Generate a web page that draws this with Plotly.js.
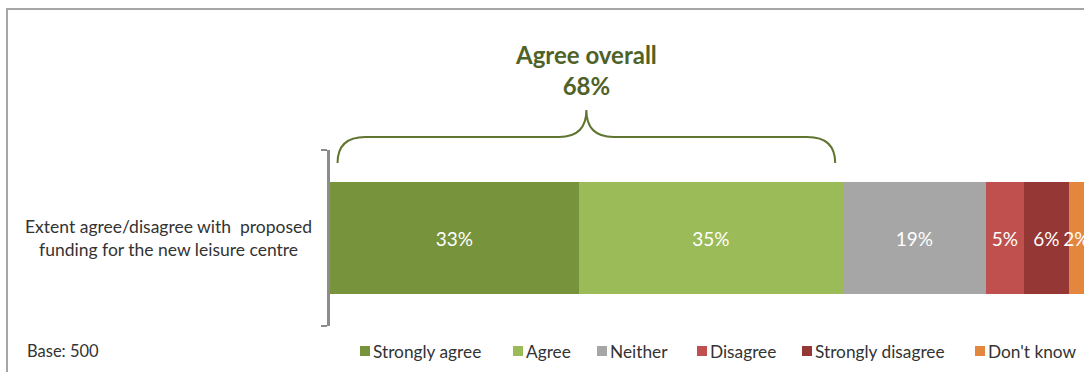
<!DOCTYPE html>
<html>
<head>
<meta charset="utf-8">
<script src="https://cdn.plot.ly/plotly-3.0.1.min.js"></script>
<style>html,body{margin:0;padding:0;background:#fff;}#chart{width:1084px;height:372px;}</style>
</head>
<body>
<div id="chart"></div>
<script>
const category = 'Extent agree/disagree with  proposed<br>funding for the new leisure centre';
const seriesNames = ['Strongly agree', 'Agree', 'Neither', 'Disagree', 'Strongly disagree', "Don't know"];
const seriesValues = [33, 35, 19, 5, 6, 2];
const seriesColors = ['#77933C', '#9BBB59', '#A6A6A6', '#C0504D', '#953735', '#E3873F'];
const baseText = 'Base: 500';
const overallLabel = 'Agree overall';
const agreeOverall = seriesValues[0] + seriesValues[1];

// layout: left edge (px) of each legend swatch
const legendSwatchPx = [360, 513, 597, 697, 802, 975];

const FONT = 'Lato, "Open Sans", sans-serif';
const PLOT_L = 330, PLOT_W = 754, PLOT_B = 326, PLOT_H = 176;
const px2x = p => (p - PLOT_L) / PLOT_W;
const py2y = p => (PLOT_B - p) / PLOT_H;

const traces = seriesNames.map((name, i) => ({
  type: 'bar',
  orientation: 'h',
  name: name,
  y: [category],
  x: [seriesValues[i]],
  width: 0.636,
  marker: {color: seriesColors[i], line: {width: 0}},
  text: [seriesValues[i] + '%'],
  texttemplate: '%{text}',
  textposition: 'inside',
  insidetextanchor: 'middle',
  textangle: 0,
  constraintext: 'none',
  textfont: {color: '#ffffff', size: 19, family: FONT},
  showlegend: false,
  hoverinfo: 'skip'
}));

// brace over the "agree" segments
const b0 = 1, b1 = agreeOverall - 1, mid = agreeOverall / 2;
const yEnd = 0.926, yLine = 1.074, yTip = 1.227;
const bracePath = `M ${b0},${yEnd} Q ${b0},${yLine} ${b0 + 3.7},${yLine} L ${mid - 3.6},${yLine} Q ${mid},${yLine} ${mid},${yTip} Q ${mid},${yLine} ${mid + 3.6},${yLine} L ${b1 - 3.7},${yLine} Q ${b1},${yLine} ${b1},${yEnd}`;

const shapes = [
  {type: 'rect', xref: 'paper', yref: 'paper', x0: px2x(7), x1: 1.2, y0: -0.6, y1: py2y(9),
   line: {color: '#A6A6A6', width: 2}, fillcolor: 'rgba(0,0,0,0)'},
  {type: 'path', xref: 'x', yref: 'paper', path: bracePath,
   line: {color: '#5F7530', width: 2}}
];
const annotations = [
  {xref: 'paper', yref: 'y', x: px2x(168), y: category, xanchor: 'center', yanchor: 'middle',
   text: category, showarrow: false, align: 'center',
   font: {size: 17.5, family: FONT, color: '#333333'}},
  {xref: 'paper', yref: 'paper', x: px2x(25), y: py2y(351), xanchor: 'left', yanchor: 'middle',
   text: baseText, showarrow: false, font: {size: 16.5, family: FONT, color: '#333333'}},
  {xref: 'x', yref: 'paper', x: mid, y: py2y(70), xanchor: 'center', yanchor: 'middle',
   text: '<b>' + overallLabel + '</b><br><b>' + agreeOverall + '%</b>', showarrow: false, align: 'center',
   font: {size: 24, family: FONT, color: '#4F6228'}}
];

seriesNames.forEach((name, i) => {
  const sx = legendSwatchPx[i];
  shapes.push({type: 'rect', xref: 'paper', yref: 'paper',
    x0: px2x(sx), x1: px2x(sx + 10), y0: py2y(356), y1: py2y(346),
    fillcolor: seriesColors[i], line: {width: 0}});
  annotations.push({xref: 'paper', yref: 'paper', x: px2x(sx + 11), y: py2y(351),
    xanchor: 'left', yanchor: 'middle', text: name, showarrow: false,
    font: {size: 17.3, family: FONT, color: '#333333'}});
});

const layout = {
  width: 1084, height: 372,
  margin: {l: 330, r: 0, t: 150, b: 46, pad: 0},
  paper_bgcolor: '#ffffff', plot_bgcolor: '#ffffff',
  barmode: 'stack',
  showlegend: false,
  font: {family: FONT, color: '#333333'},
  xaxis: {range: [0, 100], visible: false, fixedrange: true},
  yaxis: {
    type: 'category', range: [-0.5, 0.5],
    showticklabels: false, showgrid: false, zeroline: false,
    showline: true, linecolor: '#8C8C8C', linewidth: 3,
    ticks: 'outside', ticklen: 6, tickwidth: 2, tickcolor: '#8C8C8C',
    tickson: 'boundaries'
  },
  shapes: shapes,
  annotations: annotations
};

Plotly.newPlot('chart', traces, layout, {displayModeBar: false, staticPlot: true});
</script>
</body>
</html>
